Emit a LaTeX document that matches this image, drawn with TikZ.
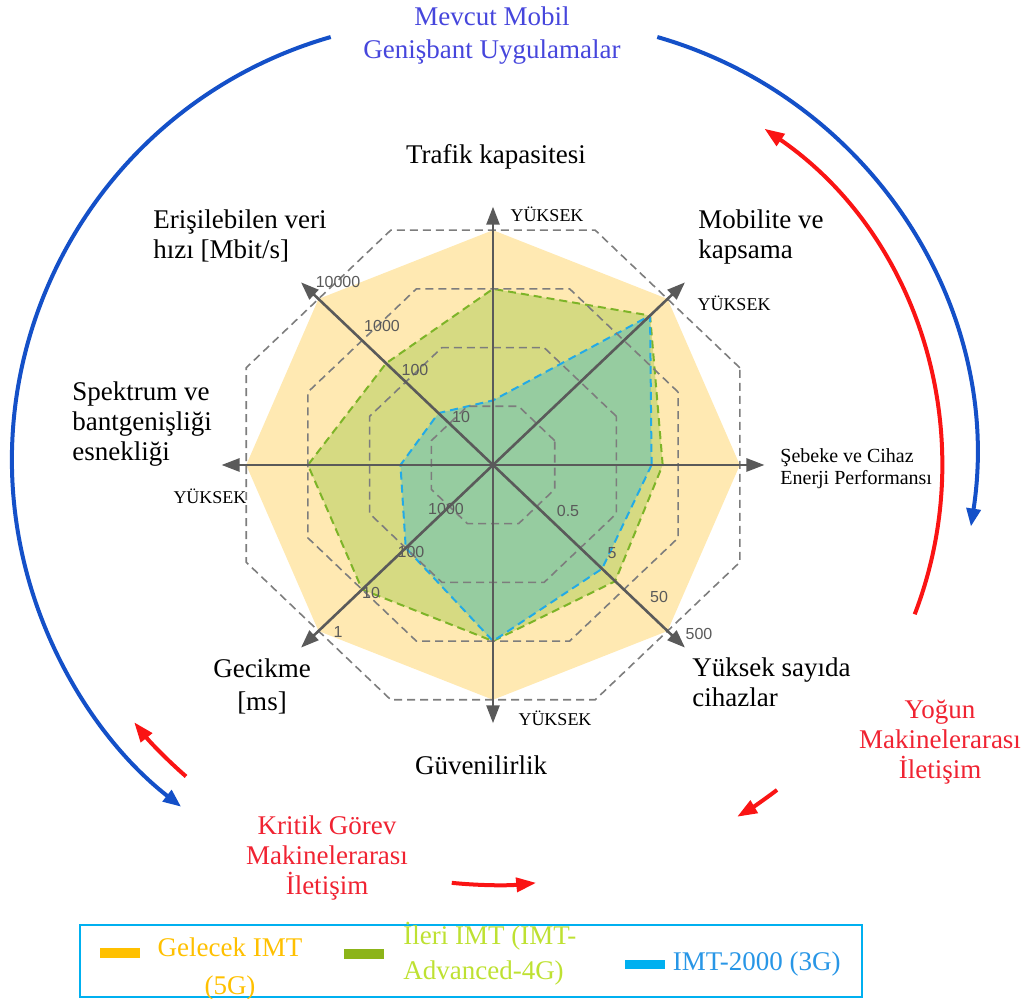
\documentclass[tikz,border=0pt]{standalone}
\usepackage{fontspec}
\setmainfont{Liberation Serif}
\newfontfamily\ticksans{Liberation Sans}
\usetikzlibrary{arrows.meta, positioning}
\definecolor{fill5G}{RGB}{255,233,178}
\definecolor{fill4G}{RGB}{214,218,130}
\definecolor{fill3G}{RGB}{150,204,160}
\definecolor{line4G}{RGB}{125,180,40}
\definecolor{line3G}{RGB}{35,170,230}
\definecolor{ringgray}{RGB}{125,125,125}
\definecolor{axisgray}{RGB}{90,90,90}
\definecolor{arcblue}{RGB}{20,80,200}
\definecolor{titleblue}{RGB}{70,70,220}
\definecolor{arcred}{RGB}{250,20,20}
\definecolor{textred}{RGB}{240,35,50}
\definecolor{key5G}{RGB}{255,192,0}
\definecolor{key4G}{RGB}{140,180,25}
\definecolor{txt4G}{RGB}{190,225,50}
\definecolor{key3G}{RGB}{0,176,240}
\definecolor{txt3G}{RGB}{40,150,230}
\tikzstyle{ring}=[ringgray, line width=0.8pt, dash pattern=on 4pt off 2.5pt]
\tikzstyle{axisline}=[axisgray, line width=1.3pt, -{Triangle[length=9pt,width=6.5pt]}]
\tikzstyle{lbl}=[font=\fontsize{13.5}{15}\selectfont, inner sep=0pt]
\tikzstyle{high}=[font=\fontsize{9}{10}\selectfont, inner sep=0pt]
\tikzstyle{ticklbl}=[font=\ticksans\fontsize{8}{9}\selectfont, text=axisgray, inner sep=0pt]
\tikzstyle{bluearc}=[arcblue, line width=2pt, -{Triangle[length=9pt,width=7pt]}]
\tikzstyle{redarc}=[arcred, line width=2pt, -{Triangle[length=10pt,width=7pt]}]
\tikzstyle{swatch}=[minimum width=20pt, minimum height=5pt, inner sep=0pt]
\begin{document}
\begin{tikzpicture}[x=0.5pt, y=0.5pt]
\useasboundingbox (0,0) rectangle (1033,999);
\begin{scope}[shift={(493,534)}, x=30.85pt, y=29.35pt]
\coordinate (O) at (0,0);
% 5G, 4G, 3G
\fill[fill5G] (0:4) -- (45:4) -- (90:4) -- (135:4) -- (180:4) -- (225:4) -- (270:4) -- (315:4) -- cycle;
\filldraw[fill=fill4G, draw=line4G, line width=1pt, dash pattern=on 4pt off 2.5pt] (0:2.75) -- (45:3.6) -- (90:3) -- (135:2.45) -- (180:3) -- (225:3) -- (270:3) -- (315:2.8) -- cycle;
\filldraw[fill=fill3G, draw=line3G, line width=1pt, dash pattern=on 4pt off 2.5pt] (0:2.57) -- (45:3.6) -- (90:1.1) -- (135:1.25) -- (180:1.5) -- (225:2) -- (270:3) -- (315:2.5) -- cycle;
\foreach \r in {1,...,4}
  \draw[ring] (22.5:{\r/0.92388}) \foreach \k in {1,...,7} {-- ({22.5+45*\k}:{\r/0.92388})} -- cycle;
\foreach \a in {0,45,...,315} \coordinate (tip\a) at (\a:4.4);
\foreach \a in {0,45,...,315} \draw[axisline] (O) -- (tip\a);
\end{scope}

\node[lbl] (traffic) at (496,842) {Trafik kapasitesi};
\node[lbl, anchor=west, align=left] (rate) at (153,763) {Erişilebilen veri\\hızı [Mbit/s]};
\node[lbl, anchor=west, align=left] (mobility) at (698,762) {Mobilite ve\\kapsama};
\node[lbl, anchor=west, align=left] (spectrum) at (72,575) {Spektrum ve\\bantgenişliği\\esnekliği};
\node[lbl, font=\fontsize{10}{11}\selectfont, anchor=west, align=left] (energy) at (780,530) {Şebeke ve Cihaz\\Enerji Performansı};
\node[lbl, anchor=west, align=left] (density) at (692,317) {Yüksek sayıda\\cihazlar};
\node[lbl, font=\fontsize{13.5}{16.5}\selectfont, align=center] (latency) at (262,313) {Gecikme\\{[ms]}};
\node[lbl] (reliability) at (481,234) {Güvenilirlik};
\node[high] (hN) at (547,785) {YÜKSEK};
\node[high] (hNE) at (734,696) {YÜKSEK};
\node[high] (hW) at (210,503) {YÜKSEK};
\node[high] (hS) at (555,281) {YÜKSEK};

\node[ticklbl] (r4) at (338,717) {10000}; \node[ticklbl] (r3) at (382,673) {1000};
\node[ticklbl] (r2) at (415,629) {100}; \node[ticklbl] (r1) at (461,582) {10};
\node[ticklbl] (l3) at (446,490) {1000}; \node[ticklbl] (l2) at (411,447) {100};
\node[ticklbl] (l1) at (371,406) {10}; \node[ticklbl] (l0) at (338,367) {1};
\node[ticklbl] (d0) at (568,488) {0.5}; \node[ticklbl] (d1) at (612,446) {5};
\node[ticklbl] (d2) at (659,402) {50}; \node[ticklbl] (d3) at (699,365) {500};

% usage scenarios
\node[lbl, font=\fontsize{13.5}{16.5}\selectfont, align=center, text=titleblue] (embb) at (492,963) {Mevcut Mobil\\Genişbant Uygulamalar};
\node[lbl, align=center, text=textred] (urllc) at (327,141) {Kritik Görev\\Makinelerarası\\İletişim};
\node[lbl, align=center, text=textred] (mmtc) at (940,257) {Yoğun\\Makinelerarası\\İletişim};
\draw[bluearc] (452,539) ++(106:440) arc[start angle=106, end angle=232, radius=440];
\draw[bluearc] (536,539) ++(74:440) arc[start angle=74, end angle=-8.7, radius=440];
\draw[redarc] (531,532) ++(-21:411) arc[start angle=-21, end angle=55.4, radius=411];
\draw[redarc] (531,532) ++(-52.7:406) arc[start angle=-52.7, end angle=-59.5, radius=406];
\draw[redarc] (455,532) ++(229:410) arc[start angle=229, end angle=218.5, radius=410];
\draw[redarc] (494,532) ++(264.2:418) arc[start angle=264.2, end angle=275.8, radius=418];

% legend
\draw[key3G, line width=1pt] (80,2) rectangle (862,74);
\node[swatch, fill=key5G] (k5) at (119.5,46) {};
\node[swatch, fill=key4G] (k4) at (363.5,45) {};
\node[swatch, fill=key3G, minimum height=4.5pt] (k3) at (645,34.5) {};
\node[lbl, font=\fontsize{13.5}{19}\selectfont, align=center, text=key5G] (t5) at (230,30) {Gelecek IMT\\(5G)};
\node[lbl, font=\fontsize{13.5}{17.5}\selectfont, align=left, text=txt4G, right=9.5pt of k4] (t4) {İleri IMT (IMT-\\Advanced-4G)};
\node[lbl, text=txt3G, right=3.5pt of k3] (t3) {IMT-2000 (3G)};
\end{tikzpicture}
\end{document}
